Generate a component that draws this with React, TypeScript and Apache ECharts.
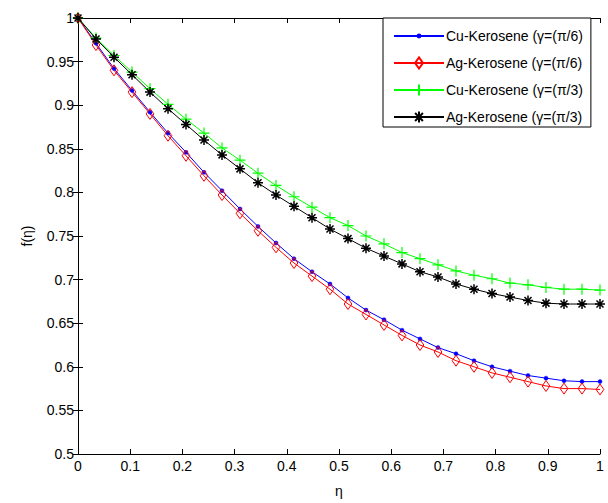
import React, { useEffect, useRef } from "react";
import * as echarts from "echarts";

const N_POINTS = 30;
const etaValues: number[] = Array.from({ length: N_POINTS }, (_, i) => i / (N_POINTS - 1));

const cuPi6: number[] = [
  1, 0.971, 0.942, 0.917, 0.892, 0.868, 0.846, 0.823, 0.802, 0.781,
  0.761, 0.742, 0.724, 0.709, 0.695, 0.679, 0.665, 0.654, 0.642, 0.632,
  0.622, 0.615, 0.607, 0.6, 0.595, 0.59, 0.587, 0.584, 0.583, 0.583,
];
const agPi6: number[] = [
  1, 0.969, 0.94, 0.915, 0.89, 0.865, 0.842, 0.819, 0.797, 0.776,
  0.756, 0.737, 0.719, 0.704, 0.689, 0.672, 0.66, 0.648, 0.636, 0.625,
  0.617, 0.607, 0.6, 0.593, 0.588, 0.583, 0.578, 0.575, 0.575, 0.574,
];
const cuPi3: number[] = [
  1, 0.977, 0.957, 0.938, 0.919, 0.901, 0.884, 0.868, 0.851, 0.837,
  0.822, 0.808, 0.795, 0.783, 0.771, 0.762, 0.75, 0.741, 0.731, 0.724,
  0.717, 0.71, 0.705, 0.701, 0.696, 0.694, 0.691, 0.689, 0.689, 0.688,
];
const agPi3: number[] = [
  1, 0.976, 0.955, 0.935, 0.915, 0.896, 0.878, 0.86, 0.843, 0.827,
  0.811, 0.797, 0.784, 0.771, 0.758, 0.747, 0.736, 0.727, 0.718, 0.709,
  0.703, 0.695, 0.689, 0.684, 0.68, 0.676, 0.673, 0.672, 0.672, 0.672,
];

const seriesNames: string[] = [
  "Cu-Kerosene (γ=(π/6)",
  "Ag-Kerosene (γ=(π/6)",
  "Cu-Kerosene (γ=(π/3)",
  "Ag-Kerosene (γ=(π/3)",
];

const FONT = "Liberation Sans, Arial, sans-serif";

const pair = (ys: number[]) => ys.map((y, i) => [etaValues[i], y]);
const fmt = (v: number) => String(+v.toFixed(2));

// marker shapes; the leading moveTo pairs fix the bounding box so small marks stay small
const DOT = "path://M-4,-4M4,4M-1,0A1,1,0,1,0,1,0A1,1,0,1,0,-1,0Z";
const DIAMOND = "path://M-1,-1M1,1M0,-1L0.7,0L0,1L-0.7,0Z";
const PLUS = "path://M0,-1V1M-1,0H1";
const STAR = "path://M-1,-1M1,1M0,-1V1M-1,0H1M-0.7,-0.7L0.7,0.7M-0.7,0.7L0.7,-0.7";

export default function App() {
  const ref = useRef<HTMLDivElement>(null);
  useEffect(() => {
    if (!ref.current) return;
    const chart = echarts.init(ref.current, undefined, { renderer: "svg" });
    const tr = "rgba(0,0,0,0)";
    const axisCommon = {
      axisLine: { show: true, lineStyle: { color: "#000", width: 1 } },
      axisTick: { show: true, inside: true, length: 5, lineStyle: { color: "#000" } },
      splitLine: { show: false },
    };
    chart.setOption({
      animation: false,
      backgroundColor: "#fff",
      textStyle: { fontFamily: FONT },
      grid: { left: 78, right: 8, top: 18, bottom: 47, containLabel: false },
      legend: {
        left: 383,
        top: 18,
        orient: "vertical",
        itemWidth: 50,
        itemHeight: 14,
        itemGap: 13,
        padding: [11, 8, 3, 10],
        borderColor: "#000",
        borderWidth: 1,
        backgroundColor: "#fff",
        borderRadius: 0,
        textStyle: { fontFamily: FONT, fontSize: 14, color: "#000", padding: [0, 0, 0, -3] },
        data: seriesNames,
      },
      xAxis: [
        {
          type: "value",
          min: 0,
          max: 1,
          interval: 0.1,
          name: "η",
          nameLocation: "middle",
          nameGap: 30,
          nameTextStyle: { fontFamily: FONT, fontSize: 14, color: "#000" },
          axisLabel: { fontFamily: FONT, fontSize: 14, color: "#000", margin: 5, formatter: fmt },
          ...axisCommon,
        },
        {
          type: "value",
          position: "top",
          min: 0,
          max: 1,
          interval: 0.1,
          axisLabel: { show: false },
          ...axisCommon,
        },
      ],
      yAxis: [
        {
          type: "value",
          min: 0.5,
          max: 1,
          interval: 0.05,
          name: "f(η)",
          nameLocation: "middle",
          nameGap: 44,
          nameRotate: 90,
          nameTextStyle: { fontFamily: FONT, fontSize: 14, color: "#000" },
          axisLabel: { fontFamily: FONT, fontSize: 14, color: "#000", margin: 4, formatter: fmt },
          ...axisCommon,
        },
        {
          type: "value",
          position: "right",
          min: 0.5,
          max: 1,
          interval: 0.05,
          axisLabel: { show: false },
          ...axisCommon,
        },
      ],
      series: [
        {
          name: seriesNames[0],
          type: "line",
          data: pair(cuPi6),
          symbol: DOT,
          symbolSize: 16,
          showAllSymbol: true,
          lineStyle: { color: "#0000ff", width: 1 },
          itemStyle: { color: "#0000ff", borderColor: "#0000ff", borderWidth: 0.5 },
        },
        {
          name: seriesNames[1],
          type: "line",
          data: pair(agPi6),
          symbol: DIAMOND,
          symbolSize: 11,
          showAllSymbol: true,
          lineStyle: { color: "#ff0000", width: 1 },
          itemStyle: { color: tr, borderColor: "#ff0000", borderWidth: 1 },
        },
        {
          name: seriesNames[2],
          type: "line",
          data: pair(cuPi3),
          symbol: PLUS,
          symbolSize: 11,
          showAllSymbol: true,
          lineStyle: { color: "#00ff00", width: 1 },
          itemStyle: { color: tr, borderColor: "#00ff00", borderWidth: 1.2 },
        },
        {
          name: seriesNames[3],
          type: "line",
          data: pair(agPi3),
          symbol: STAR,
          symbolSize: 10,
          showAllSymbol: true,
          lineStyle: { color: "#000000", width: 1 },
          itemStyle: { color: tr, borderColor: "#000000", borderWidth: 1.5 },
        },
      ],
    });
    return () => chart.dispose();
  }, []);
  return (
    <div
      ref={ref}
      style={{ position: "fixed", left: 0, top: 0, width: 608, height: 503, background: "#fff" }}
    />
  );
}
